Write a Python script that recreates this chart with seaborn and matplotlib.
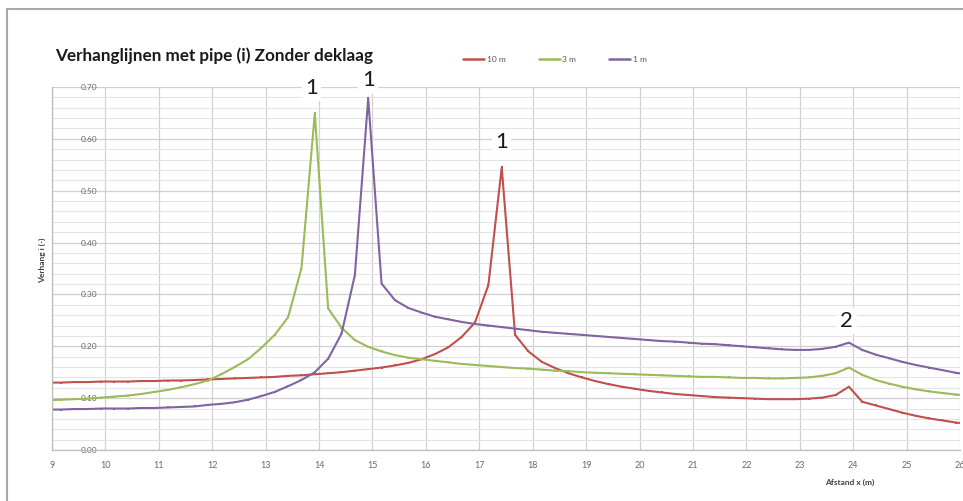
import numpy as np
import pandas as pd
import matplotlib
matplotlib.use("Agg")
import matplotlib.pyplot as plt
from matplotlib.ticker import MultipleLocator, FormatStrFormatter
from matplotlib.lines import Line2D
import seaborn as sns

# ---- data -------------------------------------------------------------
x_pos = [round(8.92 + 0.25 * i, 2) for i in range(70)]

verhang_10m = [0.130, 0.130, 0.131, 0.131, 0.132, 0.132, 0.132, 0.133, 0.133, 0.134,
               0.134, 0.135, 0.136, 0.137, 0.138, 0.139, 0.140, 0.141, 0.143, 0.144,
               0.146, 0.148, 0.150, 0.153, 0.156, 0.159, 0.163, 0.168, 0.175, 0.185,
               0.198, 0.218, 0.246, 0.318, 0.545, 0.222, 0.190, 0.170, 0.158, 0.148,
               0.140, 0.133, 0.127, 0.122, 0.118, 0.114, 0.111, 0.108, 0.106, 0.104,
               0.102, 0.101, 0.100, 0.099, 0.098, 0.098, 0.098, 0.099, 0.101, 0.106,
               0.122, 0.093, 0.086, 0.079, 0.072, 0.066, 0.061, 0.057, 0.053, 0.050]

verhang_3m = [0.096, 0.097, 0.098, 0.099, 0.101, 0.103, 0.105, 0.108, 0.112, 0.116,
              0.121, 0.127, 0.134, 0.146, 0.160, 0.175, 0.197, 0.222, 0.256, 0.350,
              0.649, 0.273, 0.236, 0.212, 0.199, 0.190, 0.183, 0.178, 0.175, 0.172,
              0.169, 0.166, 0.164, 0.162, 0.160, 0.158, 0.157, 0.155, 0.153, 0.152,
              0.150, 0.149, 0.148, 0.147, 0.146, 0.145, 0.144, 0.143, 0.142, 0.141,
              0.141, 0.140, 0.139, 0.139, 0.138, 0.138, 0.139, 0.140, 0.143, 0.148,
              0.159, 0.145, 0.135, 0.128, 0.122, 0.117, 0.113, 0.110, 0.107, 0.105]

verhang_1m = [0.078, 0.078, 0.079, 0.079, 0.080, 0.080, 0.080, 0.081, 0.081, 0.082,
              0.083, 0.084, 0.087, 0.089, 0.092, 0.097, 0.104, 0.112, 0.123, 0.135,
              0.150, 0.176, 0.224, 0.337, 0.678, 0.321, 0.289, 0.274, 0.265, 0.257,
              0.252, 0.247, 0.243, 0.240, 0.237, 0.234, 0.231, 0.228, 0.226, 0.224,
              0.222, 0.220, 0.218, 0.216, 0.214, 0.212, 0.210, 0.209, 0.207, 0.205,
              0.204, 0.202, 0.200, 0.198, 0.196, 0.194, 0.193, 0.193, 0.195, 0.199,
              0.207, 0.193, 0.184, 0.177, 0.170, 0.164, 0.159, 0.154, 0.149, 0.145]

series_names = ["10 m", "3 m", "1 m"]
series_colors = ["#C0504D", "#9BBB59", "#8064A2"]
x_ticks = list(range(9, 27))

peak_labels = ["1", "1", "1", "2"]
peak_label_x = [13.86, 14.92, 17.42, 23.88]
peak_label_y = [0.699, 0.713, 0.593, 0.249]

title_text = "Verhanglijnen met pipe (i) Zonder deklaag"
x_label = "Afstand x (m)"
y_label = "Verhang i (-)"

# ---- figure -----------------------------------------------------------
sns.set_style("white")
plt.rcParams["font.family"] = ["Lato", "DejaVu Sans"]

W, H = 963, 501
fig = plt.figure(figsize=(W / 100, H / 100), dpi=100)
fig.patch.set_facecolor("white")

ax_l, ax_r, ax_t, ax_b = 52, 960, 87, 450
ax = fig.add_axes([ax_l / W, 1 - ax_b / H, (ax_r - ax_l) / W, (ax_b - ax_t) / H])

df = pd.DataFrame({
    "x": x_pos * 3,
    "y": verhang_10m + verhang_3m + verhang_1m,
    "serie": [series_names[0]] * len(x_pos) + [series_names[1]] * len(x_pos)
             + [series_names[2]] * len(x_pos),
})

sns.lineplot(data=df, x="x", y="y", hue="serie", hue_order=series_names,
             palette=series_colors, sort=False, estimator=None, legend=False,
             linewidth=1.5, marker="s", markersize=1.7, markeredgewidth=0, ax=ax)

ax.set_xlim(9, 26)
ax.set_ylim(0, 0.70)
ax.xaxis.set_major_locator(plt.FixedLocator(x_ticks))
ax.yaxis.set_major_locator(MultipleLocator(0.10))
ax.yaxis.set_minor_locator(MultipleLocator(0.02))
ax.yaxis.set_major_formatter(FormatStrFormatter("%.2f"))

ax.grid(True, which="major", color="#d0d0d0", linewidth=0.9)
ax.grid(True, which="minor", axis="y", color="#e4e4e4", linewidth=0.8)
ax.set_axisbelow(True)

for s in ["top", "right"]:
    ax.spines[s].set_visible(False)
for s in ["left", "bottom"]:
    ax.spines[s].set_color("#bdbdbd")
    ax.spines[s].set_linewidth(0.9)

ax.tick_params(axis="y", which="both", length=0, pad=-32.5, labelsize=6,
               labelcolor="#6a6a6a")
ax.tick_params(axis="x", which="major", length=3, width=0.8, color="#bdbdbd",
               pad=5, labelsize=6.5, labelcolor="#6a6a6a", direction="out")

ax.set_xlabel("")
ax.set_ylabel("")
fig.text(850 / W, 1 - 482 / H, x_label, ha="center", va="center",
         fontsize=6, fontweight="bold", color="#404040")
fig.text(42 / W, 1 - 260 / H, y_label, ha="center", va="center", rotation=90,
         fontsize=6, fontweight="bold", color="#404040")

# title
t = fig.text(55 / W, 1 - 60.5 / H, title_text, ha="left", va="baseline",
             fontsize=11, fontweight="bold", color="#1a1a1a")
fig.canvas.draw()
bb = t.get_window_extent()
t.set_fontsize(11 * 317 / bb.width)

# legend
handles = [Line2D([], [], color=c, linewidth=1.8) for c in series_colors]
fig.legend(handles, series_names, loc="center", bbox_to_anchor=(555 / W, 1 - 59 / H),
           ncol=3, frameon=False, fontsize=6, handlelength=2.5, handletextpad=0.3,
           columnspacing=4.0, labelcolor="#555555")

# peak annotations
for lab, px, py in zip(peak_labels, peak_label_x, peak_label_y):
    ax.text(px, py, lab, ha="center", va="center", fontsize=16, color="#1a1a1a",
            clip_on=False, zorder=5,
            bbox=dict(boxstyle="square,pad=0.15", facecolor="white", edgecolor="none"))

# outer frame of the chart
fig.add_artist(Line2D([7 / W, 7 / W], [0, 1 - 9 / H], transform=fig.transFigure,
                      color="#a8a8a8", linewidth=1.5))
fig.add_artist(Line2D([7 / W, 1], [1 - 9 / H, 1 - 9 / H], transform=fig.transFigure,
                      color="#a8a8a8", linewidth=1.5))

fig.savefig("out.png", dpi=100, facecolor="white")
